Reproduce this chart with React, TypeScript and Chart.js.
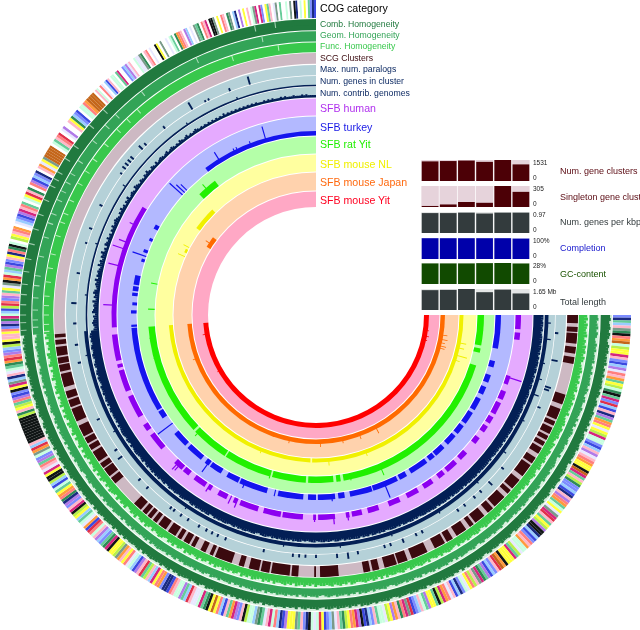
import React, { useEffect, useRef } from "react";
import { Chart, registerables } from "chart.js";

Chart.register(...registerables);

// ---------- COG categories, one letter per gene-cluster bin ('.' = no category)
const cogRight =
  "JXABKUOTRMZQNPPVKJLBYSRKMAPNQOTAVJWBLKXYAMRPSPNVQQJLBKYSKRMPPTZVAKNOJJBLXKYRMAQPSUVWKAPNYTTXBLJRKMQQSNAVPPPTMZWKJBLYAOVUKNRPSQJXBLKSRMVNTAPPYAQKBJLWUVROKMYPNSQQAKJBXLTYVMRPNOAKSUBJLPWQ";
const cogBottomLeft =
  "SQTXJKAUPPPYLXBRQVKSAOUBQQNTKJYVMAKLBRPZPTOAVQSSKWBAYQQKRLXXJMRPVBKNAWKYLBQSRPKMUNPPTVOAJBYKQRWLMSQABPNTVKJYXORMPAQLBNTTPVSKRAYJQUMWBKTTTTTTTTTTNOKPNARYLJTPVUBXKSQAOMWRYJBNTPK";
const cogLeft =
  "KPRJXYOVQBLNWRJYKAPSUTMWQBAYLJKPXROTQ.NPKRM.SBJLYVKRA.QPWKO.RYLBJX.KMSPUZZZZZ.QAKRW.SY..KPOBJL.QQRMZZZZ";
const cogTop =
  ".KQ.RS.BLK.QQ.AV..JBYSK..QSSUO.KR.S..TP.U..S.QA.OMRK.YB.S.UAO.RKV.TTU.P.RK.OU.BX.Y.P.K.QUV.VJ.PAK.SU.A..Q.U.TX.Q.P.AJXL";
const cogColors: Record<string, string> = {
  J: "#7c8cff", K: "#ffb6c8", L: "#3b49e0", M: "#ff9a3c", N: "#b8f04a",
  O: "#2e8b57", P: "#ffff3a", Q: "#c8ffe0", R: "#ff7f7f", S: "#e8e8ff",
  T: "#101515", U: "#7a9a8a", V: "#d4267e", W: "#e0304a", X: "#1a2a80",
  Y: "#b07ae8", Z: "#c4661a", A: "#66cc99", B: "#99ccff", ".": "#ffffff",
};

// ---------- homogeneity bar heights for the core part of the wheel
const combBars =
  "8978979867989788968797889798689779887979689878978879678987988967987987889798978896798897887986798788979687988979878698798978897679887978989687978897898679887986978798897879689798879786988797896798797889786987978898796987887979869788978979688978798867988797897869788979798679879878969788798679787897986";
const geomBars =
  "7867868756878677857686778687578668776868578767867768567876877856876876778687867785687786776875687677868576877868767587687867786568776867878576867786787568776875867687786768578687768675877686785687686778675876867787685876776868758677867868577867687756877686786758677868687568768767858677687568676786875";
const funcBars =
  "7868767857687868756786768678578687768567868778658768767867856876786757687867685687867786578767867685678768676586787678568767768585786787667857687687677685768678576876685768567857684675768568574675865768467586745786574685764867548675846785746857486574685748657486578468574865748675486574865784657486";
const contribBars =
  "9989989789998998979899899798989978998997899899989799989897998989879899998979989989798998979899897998989987989989979899987989899798979998989789978989987998787998979899898978998679988998979878998989769989889798678997898897698798979879869878998796897899879687887986979879889678979868976897798687986";
const contribThin =
  "5456545365454635465345463545436453546342543534243534543243534243523432543243243532432423432342343232432342323432323232323232423232323232323232223232322232322232223232222";

// ---------- thin pale notches in the homogeneity rings: degrees along the wheel
const combNotches = [177, 178.5, 180, 182, 184, 186, 188.5, 191, 194, 197, 200, 203, 206, 207.5, 209, 212, 215, 220, 224, 258, 262];
const geomNotches = [177.5, 179, 181, 183.5, 186, 188, 192, 196, 199, 201, 204, 206, 208, 210, 213, 218, 222, 225, 232, 245, 259];
const funcNotches = [176.5, 178, 180, 182, 184, 187, 190, 193, 197, 200, 202, 205, 209, 212, 215, 219, 223, 226, 229, 252, 262];

// ---------- SCG cluster runs [from, to] in degrees along the wheel
const scgRuns = [
  [0, 1.8], [2.6, 3.7], [4, 6.3], [7, 8.5], [9.3, 10.8], [17.7, 20], [21, 23.5], [24, 25], [25.5, 27], [27.5, 28.5],
  [29, 30], [30.5, 32], [33, 34.5], [35, 38], [39, 41.5], [42, 43], [44, 47], [47.5, 49], [50, 52.5], [53, 54],
  [55, 57.5], [58.5, 60], [60.5, 63], [64.8, 68.5], [69.5, 71.7], [72, 74.8], [76, 77.5], [78, 79.5], [85, 89.1], [90, 90.4],
  [93.9, 95.4], [95.8, 99.9], [100.3, 102.2], [102.6, 104.9], [106, 107.2], [108.8, 112.7], [113.2, 114], [115, 116.2], [117.6, 118.5], [119, 120.4],
  [121, 122], [122.5, 124.4], [125, 127], [127.5, 128.5], [129, 130], [130.4, 131.5], [132, 134], [140, 141.5], [142, 144], [144.3, 145.5],
  [146, 148.5], [149, 150.2], [150.6, 152], [152.4, 155], [156, 159], [159.4, 161], [161.4, 163], [164, 167], [167.5, 169], [169.3, 170.6],
  [171, 173], [173.5, 174.5], [175, 175.8],
];

// ---------- band runs [from, to, height] of each genome layer
const humanRuns = [
  [0, 4, 5], [5, 7, 5], [17.5, 20, 4], [22, 24.5, 5], [25.5, 29, 5], [30, 32, 5], [33, 35, 5], [37, 39, 5], [42.5, 45, 5], [46.5, 50, 5],
  [51, 53, 5], [55, 58, 5], [59.8, 63.4, 5], [65.6, 69, 5], [72, 75.2, 5], [76.9, 79.8, 5], [80.5, 81.5, 5], [84.6, 89.4, 5], [90, 90.8, 5], [93.7, 99.5, 5],
  [100, 105, 5], [106.6, 112, 5], [113, 114, 5], [116, 118.8, 5], [121, 122, 5], [123, 126.7, 5], [128.5, 130.5, 5], [131, 133.8, 5], [139, 144, 5], [145.5, 147.5, 5],
  [150, 156.5, 5], [158, 164.2, 5], [165, 166, 5], [167, 174.5, 5], [176.5, 212, 4.5],
];
const turkeyRuns = [
  [0, 10.5, 5], [14.5, 16.5, 5], [19, 21.5, 5], [23, 25.5, 5], [27, 31, 5], [32, 36, 5], [37, 40, 5], [41, 44.5, 5], [46, 49.5, 5], [50, 52, 5],
  [53, 59, 5], [60.5, 63, 5], [63.7, 71.9, 5], [72.2, 79.3, 5], [81, 83, 5], [84, 89.4, 5], [90, 92.5, 5], [94, 102, 5], [105.5, 114.5, 5], [115, 119, 5],
  [121, 125, 5], [125.5, 127, 5], [128.5, 134, 5], [135, 140, 5], [146, 148.5, 5], [149, 176, 5],
  [176.3, 177, 5], [180.5, 181.5, 5], [183, 184, 4], [186, 187, 5], [187.5, 189, 5], [189.5, 192.5, 5], [197, 198, 3], [200, 201, 4], [204, 205, 3], [208, 209.5, 4],
  [233, 270, 4],
];
const ratRuns = [[0, 10.5, 6], [11.5, 13, 6], [17.5, 80.5, 6], [81.5, 83, 6], [84, 92.7, 6], [93.5, 105.2, 6], [106, 122.5, 6], [123, 136, 6], [136.8, 176, 6], [226, 233, 6]];
const nlRuns = [[0, 91.5, 4.5], [92.2, 176, 4.5], [205.5, 207, 3], [216, 225.5, 5]];
const japanRuns = [[0, 176, 4], [212, 217, 4]];
const yitRuns = [[0, 176, 5]];

// ---------- spikes [degree, height]
const humanSpikes = [[18, 16], [81, 8], [85, 10], [90.4, 7], [113, 9], [115, 8], [122, 8], [132.3, 10], [133, 11], [182.8, 13], [194, 14], [199, 15], [201, 11], [206.4, 8]];
const turkeySpikes = [[67.9, 17], [85, 7], [103, 6], [113, 8], [126, 14], [143, 18], [199, 14], [222, 17], [223, 11], [224, 8], [238, 12], [243.5, 6], [244.5, 6], [249, 6], [254, 16]];
const ratSpikes = [[67, 12], [78, 7], [106, 8], [135, 9], [165, 6], [172, 6], [182, 6], [191, 6], [229, 11]];
const nlSpikes = [[11, 10], [13, 9], [16, 14], [18, 8], [70, 7], [85, 8], [112, 6], [204, 8], [208, 7]];
const japanSpikes = [[9, 8], [11, 9], [12.5, 7], [14, 9], [15, 8], [62, 9], [70, 7], [78, 6], [88, 7], [102, 6], [160, 6], [214, 8]];
const yitSpikes = [[8, 6], [11, 7], [13, 6], [150, 6], [170, 7]];

// ---------- marks in the two count rings
const paralogTicks = [
  [4.3, 3], [10.8, 6], [17.3, 6], [18, 5], [22.5, 3], [39.4, 3], [44, 5], [47, 3], [49, 3], [52, 3], [54, 3], [63.9, 3], [65.5, 3], [68.9, 4],
  [72, 3], [73.5, 3], [80, 3], [82.4, 6], [85, 4], [90, 3], [92.5, 3], [94, 3], [95.5, 3], [102.5, 3], [112, 3], [114, 3], [115.5, 3], [117, 3],
  [119, 3], [122, 3], [124, 3], [126, 3], [127, 3], [134.3, 3], [137, 3], [143.9, 5], [146, 3], [154.4, 3], [168.6, 3], [172.9, 3], [178, 3],
  [182.8, 5], [190, 3], [197.4, 2], [201, 3], [207, 3], [216, 2], [217.5, 4], [218.5, 4], [219.5, 4], [220.5, 4], [223.7, 5], [225, 3], [231, 3], [239, 8], [242.6, 2], [243.5, 2], [249, 3], [254, 8],
];
const clusterRuns = [[0, 176, 3.5], [176, 270, 1.3]];
const clusterSpikes = [[2, 6], [6, 7], [12, 5], [16, 6], [20, 8], [27, 5], [36, 6], [46, 5], [58, 5], [71, 5], [84, 5], [98, 5], [124, 5], [150, 5], [170, 5], [185, 3], [198, 3], [214, 4], [236, 3], [250, 3]];

// ---------- small bar panels
const genomes = ["SFB mouse Yit", "SFB mouse Japan", "SFB mouse NL", "SFB rat Yit", "SFB turkey", "SFB human"];
const numGeneClusters = [1430, 1455, 1490, 1395, 1531, 1210];
const singletonClusters = [15, 37, 73, 61, 305, 220];
const genesPerKbp = [0.92, 0.92, 0.94, 0.9, 0.94, 0.94];
const completion = [99, 99, 99, 99, 99, 97];
const gcContent = [27.4, 27.4, 27.4, 27.8, 28, 27.3];
const totalLength = [1.56, 1.58, 1.65, 1.4, 1.6, 1.3];
const panelMaxima = [1531, 305, 0.97, 100, 28, 1.65];
const panelTicks = ["1531", "305", "0.97", "100%", "28%", "1.65 Mb"];
const panelTitles = ["Num. gene clusters", "Singleton gene clust", "Num. genes per kbp", "Completion", "GC-content", "Total length"];

const ringTitles = ["COG category", "Comb. Homogeneity", "Geom. Homogeneity", "Func. Homogeneity", "SCG Clusters", "Max. num. paralogs", "Num. genes in cluster", "Num. contrib. genomes", "SFB human", "SFB turkey", "SFB rat Yit", "SFB mouse NL", "SFB mouse Japan", "SFB mouse Yit"];

// ---------- layout and style
const TITLE_Y = [8, 24, 35, 46, 58, 69, 81, 93, 108, 127, 144, 164, 182, 200];
const TITLE_COLOR = ["#000", "#217a3f", "#33a457", "#38c84c", "#3b0a0f", "#0d2a63", "#0d2a63", "#0d2a63", "#b030ee", "#1a1ae6", "#22ee00", "#f0f000", "#ff6a10", "#ff0020"];
const TITLE_SIZE = [10.6, 8.7, 8.7, 8.7, 8.7, 8.7, 8.7, 8.7, 10.6, 10.6, 10.6, 10.6, 10.6, 10.6];
const PANEL_TOP = [160, 186, 212, 238, 263, 289];
const PANEL_TITLE_Y = [171, 197, 222, 248, 274, 302];
const PANEL_COLOR = ["#4c0006", "#4c0006", "#333b3d", "#0000aa", "#114a00", "#333b3d"];
const PANEL_PALE = ["#e6d3db", "#e6d3db", "#e4e6e6", "#dcdcf4", "#dde6d8", "#e4e6e6"];
const PANEL_TEXT = ["#5a0a12", "#5a0a12", "#333b3d", "#1515cc", "#1a5200", "#333b3d"];

const END = 270;
type Run = number[];
const BLUE = "#b5d1d8";
const NAVY = "#031f55";

function fromRuns(runs: Run[], base: number, color: string) {
  const sorted = [...runs].sort((a, b) => a[0] - b[0]);
  const widths: number[] = [];
  const values: number[] = [];
  let cur = 0;
  for (const [s0, e, h] of sorted) {
    const s = Math.max(s0, cur);
    if (e <= s) continue;
    if (s > cur) { widths.push(s - cur); values.push(0); }
    widths.push(e - s);
    values.push(base + h);
    cur = e;
  }
  if (cur < END) { widths.push(END - cur); values.push(0); }
  return makeSet(widths, values, color);
}
function fromSpikes(list: Run[], base: number, color: string, w = 0.35) {
  return fromRuns(list.map(([d, h]) => [d - w / 2, d + w / 2, h]), base, color);
}
function fromNotches(list: number[], base: number, height: number, color: string) {
  return fromSpikes(list.map((d) => [d, height]), base, color, 0.22);
}
function fromBins(bins: string, from: number, to: number, base: number, color: string, offset = 0, gain = 1) {
  const w = (to - from) / bins.length;
  const widths: number[] = from > 0 ? [from] : [];
  const values: number[] = from > 0 ? [0] : [];
  for (const c of bins) { widths.push(w); values.push(base + offset + Number(c) * gain); }
  return makeSet(widths, values, color);
}
function solid(r: number, color: string) {
  return makeSet([END], [r], color);
}
function makeSet(widths: number[], values: number[], color: string | string[]) {
  return {
    data: values,
    angle: (ctx: any) => widths[ctx.dataIndex],
    backgroundColor: color,
    borderWidth: 0,
    clip: false as const,
  };
}
function cogLayer() {
  const sections: [string, number, number][] = [[cogRight, 0, 90], [cogBottomLeft, 90, 176], [cogLeft, 176, 225], [cogTop, 225, 270]];
  const widths: number[] = [];
  const values: number[] = [];
  const colors: string[] = [];
  for (const [s, a, b] of sections) {
    for (const c of s) { widths.push((b - a) / s.length); values.push(315); colors.push(cogColors[c]); }
  }
  return makeSet(widths, values, colors);
}

function homogeneity(outer: number, base: number, pale: string, dark: string, notch: string, bars: string, notches: number[], offset: number, gain: number, floor: number) {
  return [
    solid(outer + 1, "#fff"),
    solid(outer, pale),
    fromBins(bars, 0, 176, base, dark, offset, gain),
    fromRuns([[0, 176, floor]], base, dark),
    fromRuns([[176, 270, outer - base]], base, dark),
    fromNotches(notches, base, outer - base, notch),
    fromRuns([[176, 270, (outer - base) * 0.45]], base, dark),
  ];
}

function buildPaintOrder() {
  const p: any[] = [];
  p.push(cogLayer());
  p.push(...homogeneity(296, 285, "#d6ecdc", "#217a3f", "#9cc8aa", combBars, combNotches, 3.5, 0.7, 7));
  p.push(...homogeneity(283.7, 273.5, "#d6f0dd", "#33a457", "#a9dab8", geomBars, geomNotches, 3, 0.75, 6.5));
  p.push(...homogeneity(272.5, 262.7, "#d8f6dd", "#38c84c", "#b4eabb", funcBars, funcNotches, 2.5, 0.85, 5.5));
  // SCG
  p.push(solid(262.8, "#fff"), solid(262, "#cdb9c3"));
  p.push(fromRuns(scgRuns.map(([a, b]) => [a, b, 10]), 252, "#3b0a0f"));
  // paralogs
  p.push(solid(251.2, "#fff"), solid(250, BLUE));
  p.push(fromRuns(paralogTicks.map(([d, h]) => [d - 0.22, d + 0.22, h]), 240, NAVY));
  // genes in cluster
  p.push(solid(239.7, "#fff"), solid(239, BLUE));
  p.push(fromSpikes(clusterSpikes, 229, NAVY, 0.3), fromRuns(clusterRuns, 229, NAVY));
  // contributing genomes
  p.push(solid(228.7, "#fff"), solid(228, BLUE));
  p.push(
    fromBins(contribBars, 0, 176, 218, NAVY, 4, 0.6),
    fromBins(contribThin, 176, 270, 218, NAVY),
    fromRuns([[0, 176, 7], [176, 270, 1.5]], 218, NAVY),
  );
  // genomes
  const genomeRings: [number, string, string, Run[], Run[]][] = [
    [216.5, "#e5aaff", "#8c00f0", humanRuns, humanSpikes],
    [198.5, "#b3b9ff", "#1414ee", turkeyRuns, turkeySpikes],
    [178.5, "#b4ffa8", "#22f000", ratRuns, ratSpikes],
    [160.5, "#ffff9f", "#f0f000", nlRuns, nlSpikes],
    [142.5, "#ffd2ad", "#ff6a00", japanRuns, japanSpikes],
    [123.5, "#ffa8c5", "#ff0000", yitRuns, yitSpikes],
  ];
  const bases = [200, 180, 162, 143, 125, 108];
  genomeRings.forEach(([outer, bg, fg, runs, sp], i) => {
    p.push(solid(outer + 1, "#fff"), solid(outer, bg));
    p.push(fromSpikes(sp, bases[i], fg), fromRuns(runs, bases[i], fg));
  });
  p.push(solid(108, "#fff"));
  // Chart.js paints the last dataset first
  return p.reverse();
}

function Panel({ index }: { index: number }) {
  const ref = useRef<HTMLCanvasElement>(null);
  useEffect(() => {
    const values = [numGeneClusters, singletonClusters, genesPerKbp, completion, gcContent, totalLength][index];
    const M = panelMaxima[index];
    const chart = new Chart(ref.current!, {
      type: "bar",
      data: {
        labels: genomes,
        datasets: [
          { data: values, backgroundColor: PANEL_COLOR[index], order: 0, barPercentage: 0.92, categoryPercentage: 1 },
          { data: genomes.map(() => M), backgroundColor: PANEL_PALE[index], order: 1, barPercentage: 0.96, categoryPercentage: 1 },
        ],
      },
      options: {
        responsive: false,
        animation: false,
        events: [],
        plugins: { legend: { display: false }, tooltip: { enabled: false } },
        layout: { padding: 0 },
        scales: {
          x: { display: false, stacked: false },
          y: {
            position: "right",
            min: 0,
            max: M,
            grid: { display: false, drawTicks: false },
            border: { display: false },
            afterBuildTicks: (s: any) => { s.ticks = [{ value: M * 0.12 }, { value: M * 0.86 }]; },
            afterFit: (s: any) => { s.width = 40; s.paddingTop = 0; s.paddingBottom = 0; },
            ticks: {
              autoSkip: false,
              padding: 3,
              color: "#222",
              font: { size: 6.5, family: "'Liberation Sans', Arial, sans-serif" },
              callback: (v: any) => (Number(v) > M / 2 ? panelTicks[index] : "0"),
            },
          },
        },
        datasets: { bar: { grouped: false } },
      } as any,
    });
    return () => chart.destroy();
  }, [index]);
  return <canvas ref={ref} width={149} height={21} style={{ position: "absolute", left: 421, top: PANEL_TOP[index], display: "block" }} />;
}

export default function App() {
  const ref = useRef<HTMLCanvasElement>(null);
  useEffect(() => {
    const chart = new Chart(ref.current!, {
      type: "polarArea",
      data: { labels: [], datasets: buildPaintOrder() },
      options: {
        responsive: false,
        animation: false,
        events: [],
        layout: { padding: { right: 8 } },
        plugins: { legend: { display: false }, tooltip: { enabled: false } },
        scales: {
          r: { display: false, min: 0, max: 315, startAngle: 90, ticks: { display: false }, pointLabels: { display: false }, grid: { display: false } },
        },
      } as any,
    });
    return () => chart.destroy();
  }, []);
  const font = "'Liberation Sans', Arial, sans-serif";
  return (
    <div style={{ position: "absolute", left: 0, top: 0, width: 640, height: 630, background: "#fff", overflow: "hidden", fontFamily: font, filter: "blur(0.35px)" }}>
      <canvas ref={ref} width={640} height={630} style={{ position: "absolute", left: 0, top: 0, display: "block" }} />
      {ringTitles.map((t, i) => (
        <div key={t} style={{ position: "absolute", left: 320, top: TITLE_Y[i] - 8, height: 16, lineHeight: "16px", fontSize: TITLE_SIZE[i], color: TITLE_COLOR[i], whiteSpace: "nowrap" }}>{t}</div>
      ))}
      {panelTitles.map((t, i) => (
        <React.Fragment key={t}>
          <Panel index={i} />
          <div style={{ position: "absolute", left: 560, top: PANEL_TITLE_Y[i] - 8, height: 16, lineHeight: "16px", fontSize: 9, color: PANEL_TEXT[i], whiteSpace: "nowrap" }}>{t}</div>
        </React.Fragment>
      ))}
    </div>
  );
}
